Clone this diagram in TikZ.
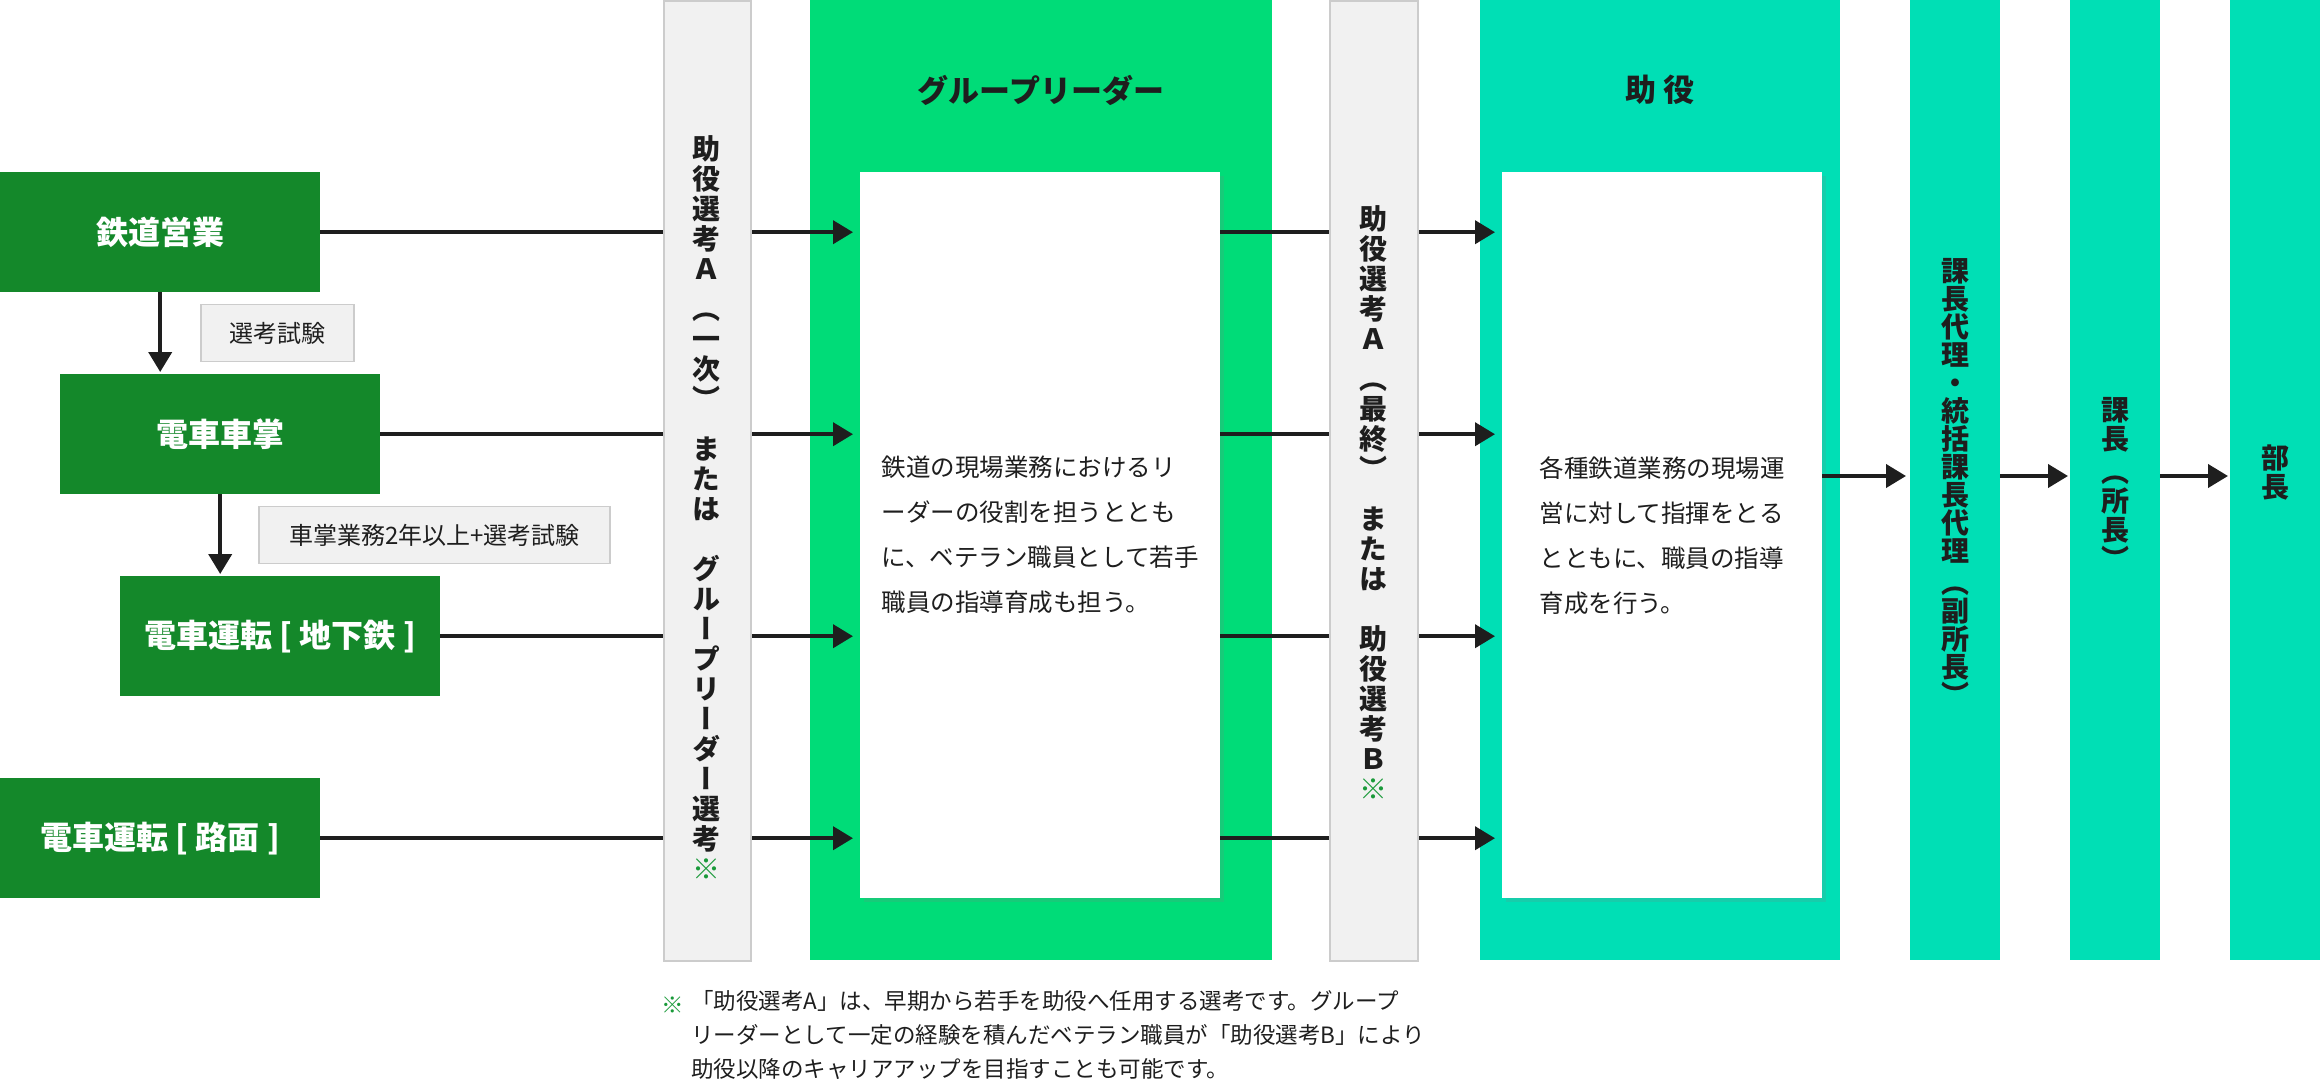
\documentclass[tikz,border=0pt]{standalone}
\usepackage{fontspec}
\setmainfont{Noto Sans CJK JP}
\newfontfamily\tatefont[RawFeature=+vert]{Noto Sans CJK JP}
\usetikzlibrary{arrows.meta,positioning,shadows}
\definecolor{darkgreen}{HTML}{14882A}
\definecolor{leadergreen}{HTML}{00DC78}
\definecolor{jyoyakuteal}{HTML}{00DFB5}
\definecolor{colgray}{HTML}{F1F1F1}
\definecolor{linegray}{HTML}{CCCCCC}
\definecolor{ink}{HTML}{1E1E1E}
\definecolor{markgreen}{HTML}{1A9A3A}
\def\colh{960}
\def\cardh{726}

\begin{document}
\begin{tikzpicture}[x=1pt, y=-1pt,
  career/.style={fill=darkgreen, text=white, font=\bfseries\fontsize{32}{38}\selectfont, minimum width=320, minimum height=120, inner sep=0, anchor=north west},
  exam/.style={fill=colgray, draw=linegray, line width=1.5, text=ink, font=\fontsize{24}{28}\selectfont, minimum height=57, inner xsep=20, inner ysep=0},
  gate/.style={fill=colgray, draw=linegray, line width=2, minimum height=\colh, inner sep=0, anchor=north west},
  post/.style={fill=jyoyakuteal, minimum width=90, minimum height=\colh, inner sep=0, anchor=north west},
  card/.style={fill=white, minimum height=\cardh, inner sep=0, anchor=north west, drop shadow={shadow xshift=4pt, shadow yshift=-4pt, opacity=.18}},
  tate/.style={align=center, text=ink, inner sep=0, font=\tatefont\bfseries\fontsize{28}{30}\selectfont},
  heading/.style={text=ink, font=\bfseries\fontsize{31}{36}\selectfont},
  desc/.style={align=left, text=ink, font=\fontsize{24.5}{45}\selectfont},
  link/.style={draw=ink, line width=4},
  arr/.style={link, -{Triangle[length=20pt, width=23pt]}, shorten >=7pt},
  down/.style={link, -{Triangle[length=20pt, width=23pt]}, shorten >=2pt},
  ]
\useasboundingbox (0,0) rectangle (2320,1085);

% columns
\node[gate, minimum width=87] (selA) at (663,0) {};
\node[gate, minimum width=88] (selB) at (1329,0) {};
\node[fill=leadergreen, minimum width=462, minimum height=\colh, inner sep=0, anchor=north west] (leader) at (810,0) {};
\node[fill=jyoyakuteal, minimum width=360, minimum height=\colh, inner sep=0, anchor=north west] (jyoyaku) at (1480,0) {};
\node[post] (dairi) at (1910,0) {};
\node[post] (kacho) at (2070,0) {};
\node[post] (bucho) at (2230,0) {};

% white cards
\node[card, minimum width=360] (leadercard) at (860,172) {};
\node[card, minimum width=320] (jyoyakucard) at (1502,172) {};
\node[heading] (leaderhd) at (1041,90) {グループリーダー};
\node[heading] (jyoyakuhd) at (1660,90) {助\ 役};
\node[desc] (leadertxt) at (leadercard.center) {鉄道の現場業務におけるリ\\ーダーの役割を担うととも\\に、ベテラン職員として若手\\職員の指導育成も担う。};
\node[desc] (jyoyakutxt) at (jyoyakucard.center) {各種鉄道業務の現場運\\営に対して指揮をとる\\とともに、職員の指導\\育成を行う。};

% careers
\node[career] (tetsudo) at (0,172) {鉄道営業};
\node[career] (shasho) at (60,374) {電車車掌};
\node[career] (chikatetsu) at (120,576) {電車運転 [ 地下鉄 ]};
\node[career] (romen) at (0,778) {電車運転 [ 路面 ]};

\draw[down] (tetsudo.south) -- (tetsudo.south |- shasho.north) node[exam, midway, right=40pt, minimum width=153] (exam1) {選考試験};
\draw[down] (shasho.south) -- (shasho.south |- chikatetsu.north) node[exam, midway, right=38pt, minimum width=351] (exam2) {車掌業務2年以上+選考試験};

% vertical labels
\node[tate] (selAtxt) at (706,508) {助\\役\\選\\考\\Ａ\\[10pt]（\\一\\次\\）\\[20pt]ま\\た\\は\\[30pt]グ\\ル\\ー\\プ\\リ\\ー\\ダ\\ー\\選\\考\\{\mdseries\color{markgreen}※}};
\node[tate] (selBtxt) at (1373,503) {助\\役\\選\\考\\Ａ\\[10pt]（\\最\\終\\）\\[20pt]ま\\た\\は\\[30pt]助\\役\\選\\考\\Ｂ\\{\mdseries\color{markgreen}※}};
\node[tate, font=\tatefont\bfseries\fontsize{28}{28}\selectfont] (dairitxt) at (1955,482) {課\\長\\代\\理\\・\\統\\括\\課\\長\\代\\理\\[4pt]（\\副\\所\\長\\）};
\node[tate, font=\tatefont\bfseries\fontsize{28}{29}\selectfont] (kachotxt) at (2115,483) {課\\長\\[4pt]（\\所\\長\\）};
\node[tate, font=\tatefont\bfseries\fontsize{28}{29}\selectfont] (buchotxt) at (2275,472) {部\\長};

% rows
\draw[link] (tetsudo.east) -- (tetsudo.east -| selA.west);
\draw[arr] (tetsudo.east -| selA.east) -- (tetsudo.east -| leadercard.west);
\draw[link] (tetsudo.east -| leadercard.east) -- (tetsudo.east -| selB.west);
\draw[arr] (tetsudo.east -| selB.east) -- (tetsudo.east -| jyoyakucard.west);

\draw[link] (shasho.east) -- (shasho.east -| selA.west);
\draw[arr] (shasho.east -| selA.east) -- (shasho.east -| leadercard.west);
\draw[link] (shasho.east -| leadercard.east) -- (shasho.east -| selB.west);
\draw[arr] (shasho.east -| selB.east) -- (shasho.east -| jyoyakucard.west);

\draw[link] (chikatetsu.east) -- (chikatetsu.east -| selA.west);
\draw[arr] (chikatetsu.east -| selA.east) -- (chikatetsu.east -| leadercard.west);
\draw[link] (chikatetsu.east -| leadercard.east) -- (chikatetsu.east -| selB.west);
\draw[arr] (chikatetsu.east -| selB.east) -- (chikatetsu.east -| jyoyakucard.west);

\draw[link] (romen.east) -- (romen.east -| selA.west);
\draw[arr] (romen.east -| selA.east) -- (romen.east -| leadercard.west);
\draw[link] (romen.east -| leadercard.east) -- (romen.east -| selB.west);
\draw[arr] (romen.east -| selB.east) -- (romen.east -| jyoyakucard.west);

% promotion
\coordinate (lvl) at (0,476);
\draw[arr, shorten >=4pt] (jyoyakucard.east |- lvl) -- (dairi.west |- lvl);
\draw[arr, shorten >=2pt] (dairi.east |- lvl) -- (kacho.west |- lvl);
\draw[arr, shorten >=2pt] (kacho.east |- lvl) -- (bucho.west |- lvl);

% note
\node[text=markgreen, font=\fontsize{22.5}{34}\selectfont, inner sep=0] (notemark) at (673,1005) {※};
\node[align=left, text=ink, font=\fontsize{22.5}{34}\selectfont, inner sep=0, anchor=north west] (note) at (691,990) {「助役選考A」は、早期から若手を助役へ任用する選考です。グループ\\リーダーとして一定の経験を積んだベテラン職員が「助役選考B」により\\助役以降のキャリアアップを目指すことも可能です。};
\end{tikzpicture}
\end{document}
